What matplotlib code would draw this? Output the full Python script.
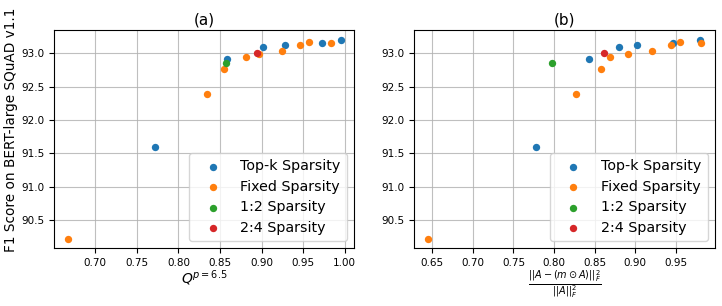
import matplotlib
matplotlib.use("Agg")
import matplotlib.pyplot as plt

# Top-k sparsity
topk_f1 = [91.59, 92.91, 93.09, 93.12, 93.16, 93.20]
topk_q = [0.7716, 0.859, 0.9017, 0.9277, 0.973, 0.9953]
topk_err = [0.778, 0.8427, 0.8793, 0.9026, 0.9469, 0.980]

# Fixed sparsity
fixed_f1 = [90.22, 92.39, 92.76, 92.95, 92.985, 93.03, 93.12, 93.165, 93.15]
fixed_q = [0.667, 0.834, 0.855, 0.881, 0.897, 0.925, 0.9457, 0.957, 0.983]
fixed_err = [0.645, 0.827, 0.8575, 0.8686, 0.891, 0.9206, 0.9436, 0.9547, 0.981]

# 1:2 sparsity
s12_f1 = [92.86]
s12_q = [0.8577]
s12_err = [0.7969]

# 2:4 sparsity
s24_f1 = [93.005]
s24_q = [0.8948]
s24_err = [0.8612]

labels = ["Top-k Sparsity", "Fixed Sparsity", "1:2 Sparsity", "2:4 Sparsity"]
titles = ["(a)", "(b)"]
xlabels = [r"$Q^{p=6.5}$", r"$\frac{||A-(m\odot A)||_F^2}{||A||_F^2}$"]
ylabel = "F1 Score on BERT-large SQuAD v1.1"

fig = plt.figure(figsize=(7.22, 3.06), dpi=100)
ax1 = fig.add_axes([0.0752, 0.1886, 0.4155, 0.7134])
ax2 = fig.add_axes([0.5738, 0.1886, 0.4165, 0.7134])

series = [
    (topk_q, topk_err, topk_f1),
    (fixed_q, fixed_err, fixed_f1),
    (s12_q, s12_err, s12_f1),
    (s24_q, s24_err, s24_f1),
]
colors = ["#1f77b4", "#ff7f0e", "#2ca02c", "#d62728"]

for k, ax in enumerate([ax1, ax2]):
    for (xq, xe, y), c, lab in zip(series, colors, labels):
        x = xq if k == 0 else xe
        ax.scatter(x, y, s=28, color=c, label=lab, zorder=3, linewidths=0)
    ax.grid(True, color="#b0b0b0", linewidth=0.8, alpha=0.8)
    ax.set_axisbelow(True)
    ax.set_title(titles[k], fontsize=11, pad=4)
    ax.set_xlabel(xlabels[k], fontsize=10, labelpad=0)
    ax.tick_params(labelsize=7.5)
    ax.set_xticks([0.65, 0.70, 0.75, 0.80, 0.85, 0.90, 0.95, 1.00] if k == 0 else
                  [0.65, 0.70, 0.75, 0.80, 0.85, 0.90, 0.95])
    ax.legend(loc="lower right", fontsize=10.3, borderaxespad=0.5,
              borderpad=0.45, handlelength=2.4, handletextpad=0.75,
              labelspacing=0.45)
    ax.set_yticks([90.5, 91.0, 91.5, 92.0, 92.5, 93.0])

ax1.set_xlim(0.6506, 1.0116)
ax2.set_xlim(0.628, 0.998)
for ax in (ax1, ax2):
    ax.set_ylim(90.08, 93.35)
ax1.set_ylabel(ylabel, fontsize=9.8)
ax1.yaxis.set_label_coords(-0.121, 0.542)

fig.savefig("out.png", dpi=100)
